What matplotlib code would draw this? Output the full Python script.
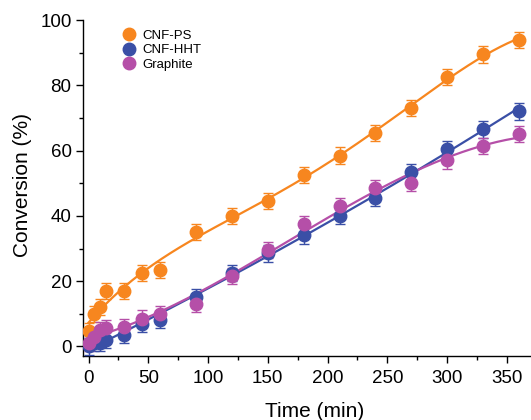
import numpy as np
import matplotlib
matplotlib.use("Agg")
import matplotlib.pyplot as plt
from matplotlib.ticker import MultipleLocator

plt.rcParams['font.family'] = ['Liberation Sans', 'DejaVu Sans']

time = [0, 5, 10, 15, 30, 45, 60, 90, 120, 150, 180, 210, 240, 270, 300, 330, 360]
cnf_ps = [4.6, 10, 12, 17, 17, 22.5, 23.5, 35, 40, 44.5, 52.5, 58.5, 65.5, 73, 82.5, 89.5, 94]
cnf_hht = [0, 1, 1, 2, 3.5, 7, 8, 15, 22.5, 28.5, 34, 40, 45.5, 53.5, 60.5, 66.5, 72]
graphite = [1, 3, 5, 5.5, 6, 8.5, 10, 13, 21.5, 29.5, 37.5, 43, 48.5, 50, 57, 61.5, 65]
err = 2.5

labels = ["CNF-PS", "CNF-HHT", "Graphite"]
colors = ["#F7861F", "#3A4FA6", "#B54FA8"]
series = [cnf_ps, cnf_hht, graphite]
fit_deg = [4, 2, 3]

fig = plt.figure(figsize=(5.31, 4.2), dpi=100)
ax = fig.add_axes([0.157, 0.152, 0.843, 0.800])

t = np.array(time, dtype=float)
tt = np.linspace(0, 360, 300)
for y, c, lab, d in zip(series, colors, labels, fit_deg):
    y = np.array(y, dtype=float)
    p = np.polyfit(t, y, d)
    ax.plot(tt, np.polyval(p, tt), color=c, lw=1.6, zorder=2)
for y, c, lab in zip(series, colors, labels):
    ax.errorbar(t, y, yerr=err, fmt='o', color=c, ms=9, elinewidth=1.0,
                capsize=3.5, capthick=1.0, label=lab, zorder=3)

ax.set_xlim(-4.3, 370.2)
ax.set_ylim(-3.0, 100)
ax.xaxis.set_major_locator(MultipleLocator(50))
ax.xaxis.set_minor_locator(MultipleLocator(25))
ax.yaxis.set_major_locator(MultipleLocator(20))
ax.yaxis.set_minor_locator(MultipleLocator(10))
ax.tick_params(which='both', direction='out', width=1.0, labelsize=13.5)
ax.tick_params(which='major', length=5)
ax.tick_params(which='minor', length=3)
ax.tick_params(axis='x', which='major', pad=5)
for s in ['top', 'right']:
    ax.spines[s].set_visible(False)
for s in ['left', 'bottom']:
    ax.spines[s].set_linewidth(1.0)

ax.set_xlabel("Time (min)", fontsize=15)
ax.set_ylabel("Conversion (%)", fontsize=15)
ax.xaxis.set_label_coords(0.516, -0.135)
ax.yaxis.set_label_coords(-0.115, 0.51)

handles = [plt.Line2D([], [], marker='o', ls='', color=c, ms=9) for c in colors]
ax.legend(handles, labels, loc='upper left', bbox_to_anchor=(0.057, 1.008), frameon=False,
          fontsize=9.5, handletextpad=0.45, labelspacing=0.18, handlelength=1.2)

fig.savefig("out.png", dpi=100)
